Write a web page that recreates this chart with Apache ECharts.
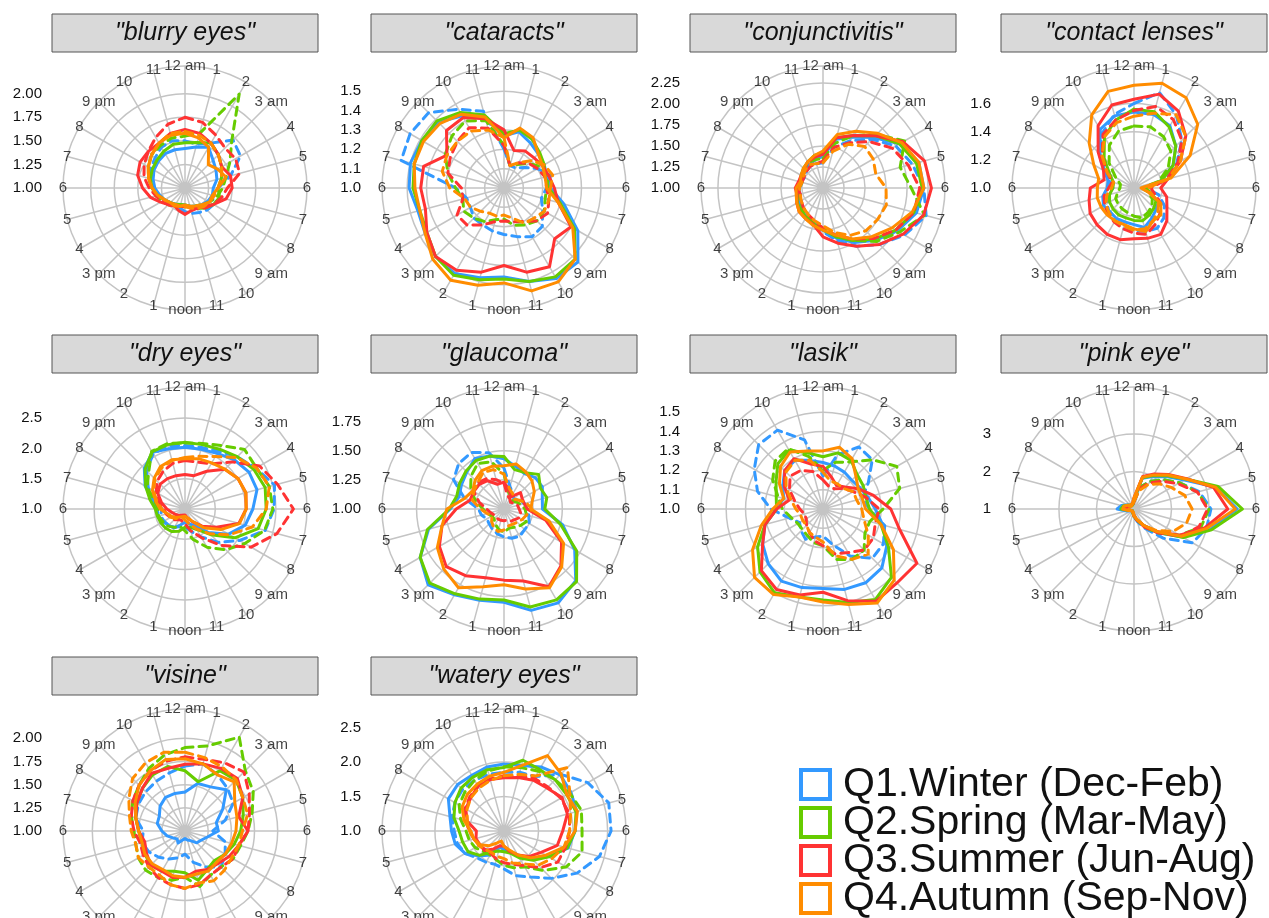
<!DOCTYPE html>
<html><head><meta charset="utf-8">
<script src="https://cdn.jsdelivr.net/npm/echarts@6/dist/echarts.min.js"></script>
<style>html,body{margin:0;padding:0;background:#fff}#c{width:1269px;height:918px}</style>
</head><body><div id="c"></div>
<script>
// ---- hour labels (angular ticks) ----
const hourLabels = ['12 am','1','2','3 am','4','5','6','7','8','9 am','10','11','noon','1','2','3 pm','4','5','6','7','8','9 pm','10','11'];
const seasons = ['Q1.Winter (Dec-Feb)','Q2.Spring (Mar-May)','Q3.Summer (Jun-Aug)','Q4.Autumn (Sep-Nov)'];
const panelNames = ['"blurry eyes"','"cataracts"','"conjunctivitis"','"contact lenses"','"dry eyes"','"glaucoma"','"lasik"','"pink eye"','"visine"','"watery eyes"'];

// ---- radial tick labels per panel ----
const blurryTicks = ['1.00','1.25','1.50','1.75','2.00'];
const cataractsTicks = ['1.0','1.1','1.2','1.3','1.4','1.5'];
const conjTicks = ['1.00','1.25','1.50','1.75','2.00','2.25'];
const contactTicks = ['1.0','1.2','1.4','1.6'];
const dryTicks = ['1.0','1.5','2.0','2.5'];
const glaucomaTicks = ['1.00','1.25','1.50','1.75'];
const lasikTicks = ['1.0','1.1','1.2','1.3','1.4','1.5'];
const pinkTicks = ['1','2','3'];
const visineTicks = ['1.00','1.25','1.50','1.75','2.00'];
const wateryTicks = ['1.0','1.5','2.0','2.5'];

// ---- values: each panel = [Q1 solid, Q1 dashed, Q2 solid, Q2 dashed, Q3 solid, Q3 dashed, Q4 solid, Q4 dashed], hours 0..23 ----
const blurryEyes = [
 [1.42,1.45,1.5,1.42,1.38,1.35,1.3,1.3,1.28,1.25,1.22,1.2,1.18,1.18,1.2,1.22,1.25,1.28,1.32,1.35,1.38,1.4,1.42,1.42],
 [1.5,1.48,1.55,1.72,1.68,1.5,1.35,1.3,1.35,1.33,1.3,1.28,1.25,1.22,1.2,1.22,1.25,1.3,1.35,1.4,1.42,1.45,1.5,1.52],
 [1.48,1.5,1.55,1.5,1.45,1.4,1.35,1.38,1.35,1.3,1.25,1.2,1.18,1.18,1.2,1.22,1.25,1.3,1.35,1.38,1.4,1.42,1.45,1.48],
 [1.55,1.6,2.15,1.7,1.55,1.45,1.4,1.35,1.3,1.25,1.22,1.2,1.2,1.2,1.22,1.25,1.28,1.32,1.35,1.4,1.45,1.5,1.52,1.55],
 [1.62,1.6,1.55,1.5,1.45,1.5,1.5,1.45,1.35,1.28,1.25,1.25,1.28,1.25,1.22,1.25,1.3,1.38,1.45,1.52,1.55,1.55,1.55,1.6],
 [1.75,1.72,1.65,1.6,1.62,1.6,1.45,1.4,1.35,1.3,1.25,1.22,1.2,1.2,1.22,1.25,1.28,1.32,1.38,1.45,1.5,1.55,1.62,1.7],
 [1.58,1.55,1.5,1.35,1.4,1.45,1.35,1.3,1.3,1.25,1.22,1.2,1.18,1.2,1.22,1.22,1.25,1.3,1.35,1.4,1.45,1.5,1.55,1.58],
 [1.6,1.58,1.55,1.5,1.45,1.4,1.35,1.32,1.3,1.28,1.25,1.22,1.2,1.2,1.2,1.22,1.25,1.3,1.35,1.4,1.45,1.5,1.55,1.6]
];
const cataracts = [
 [1.27,1.30,1.27,1.25,1.24,1.23,1.24,1.32,1.44,1.54,1.54,1.50,1.46,1.48,1.51,1.50,1.47,1.46,1.49,1.50,1.49,1.48,1.43,1.37],
 [1.20,1.12,1.12,1.15,1.20,1.25,1.22,1.20,1.23,1.28,1.29,1.26,1.24,1.23,1.22,1.22,1.20,1.20,1.25,1.55,1.56,1.55,1.47,1.41],
 [1.28,1.31,1.29,1.26,1.24,1.22,1.23,1.30,1.42,1.52,1.53,1.50,1.47,1.49,1.52,1.50,1.46,1.45,1.47,1.48,1.49,1.49,1.45,1.39],
 [1.22,1.12,1.14,1.18,1.22,1.24,1.22,1.22,1.24,1.24,1.22,1.20,1.16,1.17,1.20,1.22,1.24,1.22,1.25,1.30,1.35,1.38,1.40,1.36],
 [1.30,1.20,1.22,1.22,1.23,1.24,1.26,1.29,1.40,1.37,1.47,1.45,1.40,1.45,1.49,1.50,1.46,1.42,1.43,1.43,1.34,1.42,1.42,1.37],
 [1.22,1.12,1.15,1.18,1.20,1.22,1.22,1.24,1.26,1.24,1.20,1.18,1.17,1.18,1.22,1.27,1.28,1.22,1.22,1.30,1.32,1.34,1.36,1.32],
 [1.26,1.32,1.30,1.25,1.23,1.22,1.22,1.29,1.41,1.52,1.56,1.55,1.49,1.52,1.55,1.52,1.47,1.45,1.46,1.48,1.48,1.47,1.44,1.38],
 [1.26,1.12,1.15,1.20,1.24,1.26,1.24,1.24,1.24,1.22,1.21,1.16,1.14,1.15,1.15,1.17,1.20,1.21,1.28,1.33,1.34,1.34,1.34,1.31]
];
const conjunctivitis = [
 [1.38,1.6,1.7,1.85,2.05,2.18,2.2,2.15,2.02,1.88,1.75,1.62,1.5,1.42,1.4,1.38,1.33,1.3,1.28,1.26,1.28,1.3,1.32,1.35],
 [1.3,1.5,1.65,1.82,2.0,2.1,2.2,2.27,2.12,1.95,1.8,1.65,1.52,1.42,1.38,1.35,1.3,1.28,1.32,1.28,1.25,1.28,1.3,1.3],
 [1.42,1.62,1.72,1.88,2.05,2.15,2.18,2.12,2.0,1.86,1.72,1.6,1.5,1.44,1.4,1.38,1.35,1.32,1.3,1.28,1.3,1.33,1.36,1.4],
 [1.35,1.55,1.72,1.9,2.12,1.95,2.05,2.25,2.05,1.9,1.72,1.6,1.48,1.42,1.38,1.35,1.3,1.3,1.28,1.26,1.28,1.32,1.35,1.35],
 [1.40,1.62,1.72,1.88,2.1,2.25,2.29,2.24,2.1,1.95,1.8,1.68,1.58,1.45,1.42,1.4,1.36,1.32,1.33,1.3,1.3,1.32,1.36,1.38],
 [1.32,1.5,1.62,1.78,1.95,2.05,2.15,2.12,2.0,1.85,1.7,1.58,1.48,1.4,1.36,1.33,1.3,1.28,1.3,1.26,1.26,1.28,1.3,1.3],
 [1.44,1.66,1.78,1.92,2.08,2.18,2.2,2.1,1.95,1.82,1.7,1.58,1.5,1.46,1.42,1.4,1.36,1.33,1.32,1.28,1.3,1.33,1.36,1.4],
 [1.3,1.45,1.6,1.7,1.69,1.65,1.75,1.78,1.75,1.72,1.65,1.55,1.45,1.4,1.36,1.33,1.3,1.28,1.28,1.26,1.27,1.3,1.32,1.3]
];
const contactLenses = [
 [1.54,1.54,1.51,1.42,1.32,1.2,1.08,1.12,1.2,1.22,1.25,1.29,1.26,1.25,1.25,1.24,1.25,1.23,1.19,1.19,1.24,1.34,1.48,1.53],
 [1.6,1.7,1.6,1.48,1.35,1.22,1.08,1.18,1.25,1.3,1.33,1.32,1.3,1.3,1.27,1.25,1.22,1.18,1.15,1.18,1.25,1.35,1.45,1.54],
 [1.56,1.56,1.5,1.42,1.32,1.2,1.08,1.12,1.18,1.2,1.22,1.24,1.23,1.22,1.22,1.21,1.2,1.18,1.15,1.15,1.2,1.3,1.42,1.5],
 [1.44,1.45,1.42,1.37,1.28,1.18,1.06,1.1,1.15,1.18,1.2,1.22,1.2,1.18,1.17,1.16,1.15,1.12,1.1,1.1,1.15,1.25,1.35,1.42],
 [1.63,1.69,1.63,1.52,1.38,1.25,1.19,1.24,1.27,1.33,1.38,1.37,1.36,1.38,1.38,1.37,1.36,1.33,1.31,1.22,1.25,1.36,1.51,1.61],
 [1.55,1.6,1.56,1.48,1.36,1.24,1.12,1.15,1.22,1.26,1.3,1.34,1.32,1.3,1.28,1.26,1.24,1.22,1.18,1.16,1.22,1.32,1.44,1.5],
 [1.73,1.77,1.74,1.64,1.46,1.27,1.05,1.1,1.22,1.27,1.27,1.32,1.29,1.27,1.27,1.27,1.27,1.27,1.26,1.26,1.33,1.45,1.6,1.71],
 [1.51,1.55,1.6,1.52,1.38,1.25,1.1,1.12,1.2,1.24,1.27,1.3,1.3,1.28,1.27,1.25,1.23,1.2,1.16,1.15,1.22,1.32,1.42,1.48]
];
const dryEyes = [
 [2.02,2.02,2.06,2.15,2.22,2.23,2.12,2.03,1.83,1.55,1.32,1.25,1.22,1.27,1.36,1.38,1.42,1.46,1.46,1.55,1.76,1.95,2.08,2.03],
 [2.05,2.05,2.1,2.22,2.35,2.53,2.47,2.37,2.04,1.78,1.53,1.38,1.3,1.3,1.35,1.38,1.4,1.42,1.38,1.5,1.7,1.9,2.05,2.08],
 [2.1,2.1,2.14,2.22,2.31,2.37,2.34,2.25,1.95,1.6,1.39,1.31,1.3,1.38,1.43,1.45,1.46,1.47,1.49,1.6,1.75,1.93,2.09,2.1],
 [2.09,2.12,2.21,2.39,2.36,2.44,2.45,2.36,2.14,1.95,1.73,1.52,1.36,1.3,1.35,1.4,1.42,1.45,1.44,1.52,1.72,1.85,2.1,2.12],
 [1.57,1.57,1.72,1.93,2.01,2.04,2.01,1.92,1.6,1.4,1.24,1.15,1.1,1.1,1.12,1.15,1.18,1.22,1.3,1.4,1.52,1.58,1.58,1.57],
 [1.8,1.8,1.86,2.1,2.42,2.58,2.79,2.57,2.26,1.85,1.55,1.37,1.25,1.2,1.2,1.25,1.28,1.32,1.35,1.45,1.55,1.65,1.72,1.78],
 [1.83,1.86,1.88,1.93,2.01,2.04,2.01,1.93,1.68,1.44,1.23,1.15,1.12,1.12,1.15,1.2,1.25,1.3,1.41,1.5,1.62,1.72,1.81,1.84],
 [1.85,1.9,2.0,2.2,2.36,2.44,2.34,2.15,1.85,1.58,1.38,1.25,1.18,1.15,1.18,1.22,1.27,1.32,1.38,1.48,1.6,1.7,1.78,1.83]
];
const glaucoma = [
 [1.43,1.38,1.35,1.38,1.38,1.34,1.33,1.52,1.70,1.87,1.93,1.9,1.8,1.81,1.85,1.92,1.83,1.67,1.46,1.4,1.42,1.45,1.5,1.47],
 [1.35,1.2,1.15,1.12,1.15,1.18,1.2,1.22,1.25,1.25,1.27,1.26,1.24,1.22,1.2,1.18,1.17,1.2,1.22,1.35,1.5,1.55,1.56,1.5],
 [1.45,1.35,1.36,1.42,1.36,1.38,1.35,1.5,1.72,1.88,1.9,1.87,1.78,1.8,1.84,1.9,1.83,1.68,1.47,1.42,1.44,1.46,1.48,1.47],
 [1.3,1.15,1.12,1.1,1.12,1.15,1.18,1.2,1.22,1.2,1.18,1.17,1.2,1.18,1.15,1.12,1.12,1.15,1.18,1.25,1.33,1.4,1.45,1.42],
 [1.23,1.17,1.12,1.2,1.18,1.18,1.2,1.37,1.57,1.69,1.77,1.64,1.61,1.61,1.66,1.7,1.64,1.55,1.41,1.3,1.3,1.3,1.28,1.22],
 [1.22,1.12,1.1,1.08,1.1,1.12,1.13,1.15,1.15,1.13,1.12,1.1,1.1,1.1,1.1,1.1,1.1,1.12,1.15,1.22,1.3,1.32,1.3,1.26],
 [1.37,1.4,1.37,1.34,1.3,1.25,1.23,1.4,1.59,1.7,1.78,1.71,1.65,1.69,1.78,1.73,1.66,1.55,1.49,1.35,1.31,1.35,1.38,1.38],
 [1.3,1.18,1.15,1.12,1.15,1.2,1.24,1.2,1.18,1.16,1.15,1.15,1.18,1.2,1.18,1.15,1.12,1.15,1.2,1.28,1.3,1.32,1.36,1.35]
];
const lasik = [
 [1.24,1.23,1.22,1.21,1.22,1.24,1.27,1.32,1.38,1.43,1.44,1.43,1.41,1.42,1.43,1.4,1.36,1.31,1.24,1.21,1.24,1.28,1.29,1.26],
 [1.17,1.29,1.37,1.36,1.27,1.21,1.24,1.33,1.36,1.36,1.28,1.19,1.14,1.15,1.18,1.16,1.14,1.18,1.27,1.35,1.41,1.47,1.47,1.37],
 [1.27,1.3,1.29,1.25,1.24,1.23,1.24,1.31,1.39,1.5,1.54,1.5,1.47,1.47,1.5,1.46,1.39,1.31,1.24,1.25,1.28,1.33,1.35,1.3],
 [1.2,1.25,1.28,1.36,1.44,1.41,1.31,1.25,1.25,1.3,1.3,1.27,1.19,1.18,1.16,1.15,1.15,1.17,1.21,1.24,1.3,1.35,1.36,1.28],
 [1.22,1.17,1.14,1.16,1.21,1.27,1.35,1.41,1.56,1.54,1.55,1.49,1.43,1.46,1.48,1.45,1.36,1.31,1.24,1.18,1.23,1.28,1.3,1.24],
 [1.15,1.12,1.12,1.15,1.18,1.23,1.29,1.28,1.3,1.3,1.26,1.24,1.19,1.17,1.14,1.12,1.1,1.1,1.12,1.15,1.2,1.24,1.23,1.2],
 [1.3,1.33,1.3,1.24,1.21,1.21,1.22,1.31,1.42,1.52,1.56,1.51,1.48,1.47,1.51,1.5,1.42,1.33,1.26,1.21,1.26,1.31,1.34,1.31],
 [1.19,1.15,1.15,1.15,1.18,1.18,1.2,1.22,1.27,1.33,1.3,1.25,1.17,1.15,1.14,1.12,1.12,1.12,1.14,1.17,1.22,1.27,1.29,1.26]
];
const pinkEye = [
 [1.25,1.85,2.0,2.22,2.55,3.25,3.75,3.1,2.5,1.9,1.5,1.3,1.2,1.1,1.08,1.06,1.1,1.2,1.45,1.35,1.22,1.15,1.12,1.12],
 [1.2,1.6,1.85,2.1,2.4,2.8,3.05,3.0,2.8,2.1,1.6,1.35,1.2,1.1,1.06,1.05,1.08,1.15,1.3,1.25,1.18,1.12,1.1,1.12],
 [1.25,1.86,2.03,2.25,2.6,3.32,3.89,3.14,2.52,1.87,1.5,1.3,1.2,1.12,1.08,1.06,1.08,1.15,1.35,1.3,1.2,1.15,1.12,1.12],
 [1.2,1.6,1.85,2.1,2.4,2.75,3.0,2.85,2.4,1.9,1.55,1.3,1.18,1.1,1.06,1.05,1.08,1.12,1.25,1.22,1.15,1.12,1.1,1.12],
 [1.3,1.9,2.08,2.3,2.62,3.2,3.5,2.95,2.4,1.85,1.5,1.3,1.18,1.1,1.06,1.05,1.08,1.12,1.28,1.25,1.18,1.12,1.12,1.15],
 [1.2,1.55,1.8,2.05,2.35,2.75,2.96,2.8,2.45,1.9,1.55,1.3,1.18,1.1,1.05,1.05,1.08,1.12,1.22,1.2,1.15,1.12,1.1,1.12],
 [1.3,1.88,2.05,2.28,2.6,3.25,3.7,3.0,2.45,1.85,1.5,1.28,1.18,1.1,1.06,1.05,1.08,1.15,1.3,1.28,1.2,1.15,1.12,1.15],
 [1.2,1.5,1.75,1.95,2.15,2.4,2.55,2.45,2.2,1.8,1.5,1.28,1.15,1.08,1.05,1.05,1.05,1.1,1.2,1.2,1.15,1.1,1.1,1.12]
];
const visine = [
 [1.42,1.53,1.55,1.63,1.47,1.35,1.36,1.25,1.2,1.18,1.12,1.1,1.08,1.1,1.15,1.12,1.15,1.2,1.25,1.31,1.32,1.38,1.42,1.42],
 [1.7,1.75,1.7,1.65,1.6,1.45,1.3,1.45,1.5,1.55,1.45,1.35,1.25,1.3,1.35,1.4,1.45,1.48,1.45,1.55,1.58,1.6,1.62,1.65],
 [1.65,1.55,1.75,1.78,1.72,1.65,1.6,1.55,1.5,1.45,1.48,1.55,1.45,1.45,1.5,1.52,1.5,1.48,1.5,1.55,1.6,1.65,1.7,1.72],
 [1.9,1.95,2.17,1.92,1.85,1.75,1.68,1.62,1.6,1.55,1.55,1.62,1.5,1.55,1.58,1.6,1.58,1.55,1.55,1.6,1.65,1.7,1.78,1.85],
 [1.72,1.75,1.78,1.8,1.72,1.6,1.68,1.6,1.55,1.5,1.48,1.45,1.5,1.52,1.5,1.52,1.48,1.45,1.5,1.55,1.6,1.65,1.72,1.7],
 [1.8,1.8,1.85,1.9,1.8,1.72,1.68,1.6,1.6,1.55,1.55,1.6,1.62,1.6,1.58,1.55,1.52,1.5,1.55,1.6,1.65,1.7,1.75,1.78],
 [1.78,1.75,1.7,1.75,1.62,1.58,1.55,1.52,1.5,1.48,1.5,1.48,1.5,1.5,1.48,1.5,1.5,1.48,1.5,1.55,1.62,1.7,1.75,1.8],
 [1.85,1.82,1.8,1.78,1.72,1.7,1.62,1.6,1.58,1.6,1.62,1.58,1.62,1.6,1.55,1.55,1.58,1.55,1.58,1.62,1.7,1.8,1.85,1.88]
];
const wateryEyes = [
 [1.97,1.98,2.07,2.15,2.12,2.09,2.03,1.96,1.74,1.58,1.4,1.32,1.27,1.24,1.4,1.51,1.65,1.73,1.76,1.81,1.93,1.95,1.93,1.96],
 [1.85,1.88,1.91,2.16,2.4,2.57,2.55,2.43,2.22,1.97,1.77,1.67,1.55,1.5,1.52,1.55,1.65,1.7,1.72,1.78,1.82,1.85,1.85,1.85],
 [1.92,2.06,2.03,2.05,2.05,2.08,2.03,1.95,1.75,1.6,1.45,1.33,1.3,1.3,1.35,1.5,1.6,1.62,1.65,1.75,1.82,1.88,1.9,1.92],
 [1.93,1.95,2.0,2.05,2.1,2.16,2.13,2.17,2.04,1.81,1.6,1.55,1.5,1.43,1.4,1.42,1.48,1.52,1.55,1.65,1.75,1.8,1.85,1.9],
 [1.77,1.8,1.85,1.88,1.97,1.95,1.85,1.8,1.62,1.52,1.4,1.3,1.22,1.22,1.3,1.4,1.4,1.42,1.4,1.55,1.64,1.68,1.75,1.77],
 [1.8,1.82,1.88,1.9,1.95,1.98,1.95,1.92,1.9,1.75,1.58,1.5,1.46,1.42,1.38,1.38,1.42,1.45,1.5,1.58,1.65,1.7,1.75,1.78],
 [1.85,1.98,2.26,2.17,2.05,2.1,2.03,1.9,1.7,1.55,1.4,1.28,1.22,1.15,1.2,1.3,1.4,1.45,1.48,1.6,1.7,1.75,1.78,1.82],
 [1.8,1.85,1.92,2.3,2.1,2.0,1.95,1.9,1.8,1.7,1.55,1.48,1.4,1.38,1.36,1.38,1.42,1.45,1.5,1.55,1.62,1.68,1.72,1.76]
];

const panelData = [blurryEyes, cataracts, conjunctivitis, contactLenses, dryEyes, glaucoma, lasik, pinkEye, visine, wateryEyes];
const panelTicks = [blurryTicks, cataractsTicks, conjTicks, contactTicks, dryTicks, glaucomaTicks, lasikTicks, pinkTicks, visineTicks, wateryTicks];

// ---- layout & style ----
const FONT = '"Liberation Sans", Arial, Helvetica, sans-serif';
const colCx = [185, 504, 823, 1134];
const rowCy = [188, 509, 831];
const R = 122;
const GRID = '#c4c4c4';
const TXT = '#111111';
const colors = ['#3399FF', '#66CC00', '#FF3333', '#FF8C00'];

const polar = [], angleAxis = [], radiusAxis = [], grid = [], xAxis = [], yAxis = [], series = [], graphic = [];

panelData.forEach((data, i) => {
  const cx = colCx[i % 4], cy = rowCy[Math.floor(i / 4)];
  const ticks = panelTicks[i];
  const tickVals = ticks.map(Number);
  const step = Math.round((tickVals[1] - tickVals[0]) * 1000) / 1000;
  const lastTick = tickVals[tickVals.length - 1];
  const dmax = Math.max(...data.flat());
  const outer = 1 + (dmax - 1) * 1.125;
  const pi = polar.length;

  polar.push({ center: [cx, cy], radius: R });
  polar.push({ center: [cx, cy], radius: R * (lastTick - 1) / (outer - 1) });

  angleAxis.push({ polarIndex: pi, type: 'value', min: 0, max: 24, interval: 1, startAngle: 90, clockwise: true,
    axisLine: { show: true, lineStyle: { color: GRID, width: 1.5 } }, axisTick: { show: false }, axisLabel: { show: false },
    splitLine: { show: true, lineStyle: { color: GRID, width: 1.5 } } });
  radiusAxis.push({ polarIndex: pi, type: 'value', min: 1, max: outer,
    axisLine: { show: false }, axisTick: { show: false }, axisLabel: { show: false }, splitLine: { show: false } });
  angleAxis.push({ polarIndex: pi + 1, type: 'value', min: 0, max: 24, startAngle: 90, clockwise: true,
    axisLine: { show: false }, axisTick: { show: false }, axisLabel: { show: false }, splitLine: { show: false } });
  radiusAxis.push({ polarIndex: pi + 1, type: 'value', min: 1, max: lastTick, interval: step,
    axisLine: { show: false }, axisTick: { show: false }, axisLabel: { show: false },
    splitLine: { show: true, lineStyle: { color: GRID, width: 1.5 } } });

  // radial tick labels at the left of each panel
  grid.push({ left: cx - 143 + 3, top: cy - R, width: 1, height: R });
  xAxis.push({ gridIndex: i, type: 'value', show: false });
  yAxis.push({ gridIndex: i, type: 'value', min: 1, max: outer, interval: step,
    axisLine: { show: false }, axisTick: { show: false }, splitLine: { show: false },
    axisLabel: { margin: 3, fontSize: 15, color: TXT, fontFamily: FONT,
      formatter: v => { const k = tickVals.findIndex(t => Math.abs(t - v) < 1e-6); return k >= 0 ? ticks[k] : ''; } } });

  data.forEach((vals, k) => {
    const s = Math.floor(k / 2), dashed = k % 2 === 1;
    series.push({ type: 'line', name: seasons[s], coordinateSystem: 'polar', polarIndex: pi,
      data: vals.map((v, h) => [v, h]).concat([[vals[0], 24]]),
      showSymbol: false, symbol: 'none', silent: true, z: 3,
      itemStyle: { color: colors[s] },
      lineStyle: { color: colors[s], width: 3, type: dashed ? [8, 6] : 'solid', cap: 'round', join: 'round' } });
  });

  series.push({ type: 'scatter', coordinateSystem: 'polar', polarIndex: pi, symbolSize: 0.1, silent: true, z: 5,
    itemStyle: { color: 'rgba(0,0,0,0)' },
    data: hourLabels.map((t, h) => [outer, h]),
    label: { show: true, position: 'inside', formatter: q => hourLabels[q.dataIndex], fontSize: 15, color: TXT, fontFamily: FONT } });

  graphic.push({ type: 'rect', shape: { x: cx - 133, y: cy - 174, width: 266, height: 38 },
    style: { fill: '#d9d9d9', stroke: '#555555', lineWidth: 1 } });
  graphic.push({ type: 'text', x: cx, y: cy - 155,
    style: { text: panelNames[i], font: 'italic 25px ' + FONT, fill: TXT, align: 'center', verticalAlign: 'middle' } });
});

const chart = echarts.init(document.getElementById('c'), null, { renderer: 'canvas' });
chart.setOption({
  animation: false,
  backgroundColor: '#ffffff',
  polar, angleAxis, radiusAxis, grid, xAxis, yAxis, series, graphic,
  legend: { orient: 'vertical', left: 799, top: 764, height: 400, padding: 0, itemWidth: 29, itemHeight: 29, itemGap: -3, selectedMode: false,
    textStyle: { fontSize: 41, fontFamily: FONT, color: TXT, lineHeight: 29, padding: [0, 0, 0, 8] },
    data: seasons.map((n, s) => ({ name: n, icon: 'rect', itemStyle: { color: '#ffffff', borderColor: colors[s], borderWidth: 4 } })) }
});
</script></body></html>
